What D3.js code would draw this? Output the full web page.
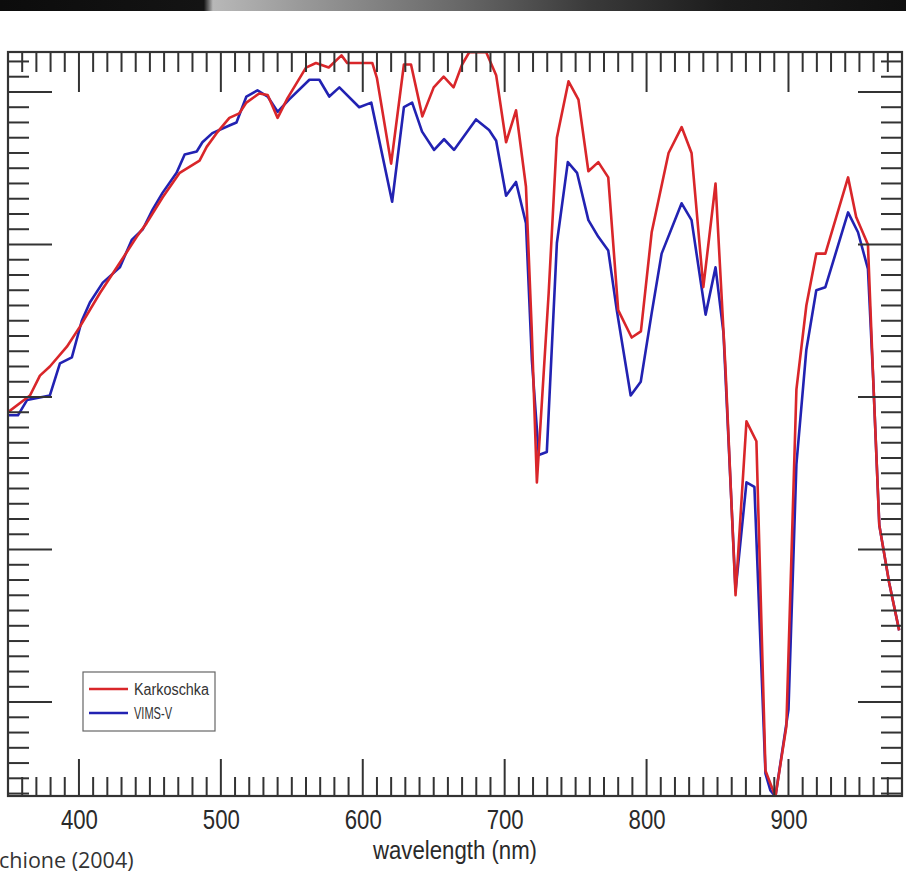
<!DOCTYPE html>
<html><head><meta charset="utf-8">
<script src="https://cdn.jsdelivr.net/npm/d3@7"></script>
<style>html,body{margin:0;padding:0;background:#fff;}svg{display:block;}</style>
</head><body>
<script>
// ---- data ----
const karkWl = [350,365.5,372.5,379.5,391.5,400.6,414.7,428.8,440.7,447.7,459,471,485,490,497,506,513,518,527,533,540,547,560,567,576,585,589,597.5,606.7,610,620,629,634,642,650,657,664,670,675,687,694,701,708,715,719,722.7,731,736.8,745,752,759,766,773,780,789.5,796,803.6,815.5,824.7,831.7,840,848.6,855.6,862.7,870.4,877.4,883.8,890.8,898.5,905.6,912.6,919.6,926,942,947.7,956,959.7,964,971,978];
const karkVal = [0.290,0.301,0.314,0.320,0.333,0.346,0.368,0.388,0.405,0.414,0.431,0.447,0.455,0.464,0.473,0.483,0.486,0.493,0.499,0.498,0.483,0.496,0.516,0.519,0.516,0.524,0.519,0.519,0.519,0.509,0.453,0.518,0.518,0.484,0.503,0.510,0.503,0.518,0.526,0.526,0.511,0.467,0.488,0.438,0.346,0.244,0.368,0.470,0.507,0.495,0.448,0.454,0.444,0.357,0.339,0.343,0.408,0.460,0.477,0.460,0.372,0.440,0.319,0.170,0.284,0.271,0.055,0.038,0.084,0.305,0.360,0.394,0.394,0.444,0.418,0.400,0.312,0.216,0.178,0.147];
const vimsWl = [350,357,363.4,379.5,386.6,395,402,407.7,416.8,428.8,437.2,445,452,459,468.8,474.5,483,487,494,506,511,518,525.8,533,540,548,562.4,569.4,576.4,583.5,597.5,606,620.7,629,634.8,641.8,650.3,657.3,664.3,679.8,689,694,701,708,715,719.2,724,729.7,736.8,744.5,751,759,766,773,779,788.8,795.9,803.6,810.6,824.7,831.7,841.6,848.6,854.2,862.7,870.4,876,883.8,887.3,890.8,900,905.6,912.6,919.6,926,942,949,956,959.7,964,971,978];
const vimsVal = [0.288,0.288,0.298,0.301,0.322,0.326,0.350,0.362,0.375,0.385,0.403,0.410,0.423,0.434,0.447,0.459,0.461,0.467,0.473,0.478,0.480,0.497,0.501,0.497,0.487,0.495,0.508,0.508,0.497,0.503,0.490,0.493,0.428,0.490,0.493,0.474,0.462,0.469,0.462,0.482,0.475,0.468,0.432,0.441,0.414,0.324,0.262,0.264,0.401,0.454,0.447,0.416,0.405,0.396,0.357,0.301,0.310,0.355,0.394,0.427,0.416,0.354,0.385,0.342,0.173,0.244,0.241,0.053,0.042,0.038,0.095,0.256,0.331,0.370,0.372,0.421,0.408,0.384,0.312,0.216,0.178,0.147];
const xTickLabels = [400,500,600,700,800,900];
const seriesNames = ["Karkoschka","VIMS-V"];
const seriesColors = ["#d9262a","#2222b2"];
const xLabel = "wavelength (nm)";
const creditText = "chione (2004)";

// ---- layout ----
const W = 906, H = 875;
const L = 8, R = 902, T = 52, B = 796;
const narrow = "'Liberation Sans',Arial,sans-serif";
const svg = d3.select("body").append("svg").attr("width", W).attr("height", H);

// dark strip at top (photo edge)
const defs = svg.append("defs");
const g1 = defs.append("linearGradient").attr("id","strip").attr("x1","0").attr("x2","1");
[[0,"#0c0c0c"],[0.225,"#141414"],[0.235,"#b8b8b8"],[0.33,"#9a9a9a"],[0.5,"#6a6a6a"],[0.65,"#3a3a3a"],[0.8,"#1c1c1c"],[1,"#101010"]]
  .forEach(([o,c]) => g1.append("stop").attr("offset",o).attr("stop-color",c));
svg.append("rect").attr("x",0).attr("y",0).attr("width",W).attr("height",11).attr("fill","url(#strip)");

defs.append("clipPath").attr("id","plotclip").append("rect")
  .attr("x",L).attr("y",T).attr("width",R-L).attr("height",B-T);

const x = d3.scaleLinear().domain([350,980]).range([L,R]);
const y = d3.scaleLinear().domain([0.0384,0.5262]).range([B,T]);

// curves
const line = d3.line().x(d => x(d[0])).y(d => y(d[1]));
const vims = vimsWl.map((w,i) => [w, vimsVal[i]]);
const kark = karkWl.map((w,i) => [w, karkVal[i]]);
const cg = svg.append("g").attr("clip-path","url(#plotclip)");
cg.append("path").datum(vims).attr("d",line).attr("fill","none")
  .attr("stroke",seriesColors[1]).attr("stroke-width",2.6).attr("stroke-linejoin","round");
cg.append("path").datum(kark).attr("d",line).attr("fill","none")
  .attr("stroke",seriesColors[0]).attr("stroke-width",2.6).attr("stroke-linejoin","round");

// ticks
const tickColor = "#333";
const tg = svg.append("g").attr("stroke",tickColor).attr("stroke-width",2);
const xMinor = d3.range(360,980,10);
xMinor.forEach(v => {
  const major = v % 100 === 0;
  tg.append("line").attr("x1",x(v)).attr("x2",x(v)).attr("y1",T).attr("y2",T+(major?40:20));
  tg.append("line").attr("x1",x(v)).attr("x2",x(v)).attr("y1",B).attr("y2",B-(major?37:19));
});
const yMinor = d3.range(4,53).map(k => k/100);
yMinor.forEach(v => {
  const major = Math.round(v*100) % 10 === 0;
  const len = major ? 44 : 21;
  tg.append("line").attr("x1",L).attr("x2",L+len).attr("y1",y(v)).attr("y2",y(v));
  tg.append("line").attr("x1",R).attr("x2",R-len).attr("y1",y(v)).attr("y2",y(v));
});

// frame
svg.append("rect").attr("x",L).attr("y",T).attr("width",R-L).attr("height",B-T)
  .attr("fill","none").attr("stroke","#333").attr("stroke-width",2.2);

// x tick labels via axis
const axis = d3.axisBottom(x).tickValues(xTickLabels).tickSize(0).tickPadding(0).tickFormat(d3.format("d"));
const ag = svg.append("g").attr("transform",`translate(0,${B})`).call(axis);
ag.select(".domain").remove();
ag.selectAll("text").attr("y",33).attr("dy",null)
  .attr("font-family",narrow).attr("font-size",28).attr("fill","#2a2a2a")
  .attr("textLength",37).attr("lengthAdjust","spacingAndGlyphs");

svg.append("text").attr("x",455).attr("y",859).attr("text-anchor","middle")
  .attr("font-family",narrow).attr("font-size",25.5).attr("fill","#2a2a2a")
  .attr("textLength",164).attr("lengthAdjust","spacingAndGlyphs").text(xLabel);

svg.append("text").attr("x",-1).attr("y",868)
  .attr("font-family","'Open Sans',sans-serif").attr("font-size",21.5).attr("fill","#333").text(creditText);

// legend
const lg = svg.append("g");
lg.append("rect").attr("x",83).attr("y",672).attr("width",132).attr("height",59)
  .attr("fill","#fff").attr("stroke","#666").attr("stroke-width",1.2);
const legW = [75, 38];
seriesNames.forEach((n,i) => {
  const yy = 689 + i*24;
  lg.append("line").attr("x1",89).attr("x2",128).attr("y1",yy).attr("y2",yy)
    .attr("stroke",seriesColors[i]).attr("stroke-width",2.6);
  lg.append("text").attr("x",134).attr("y",yy+6)
    .attr("font-family",narrow).attr("font-size",16).attr("fill","#333")
    .attr("textLength",legW[i]).attr("lengthAdjust","spacingAndGlyphs").text(n);
});
</script>
</body></html>
